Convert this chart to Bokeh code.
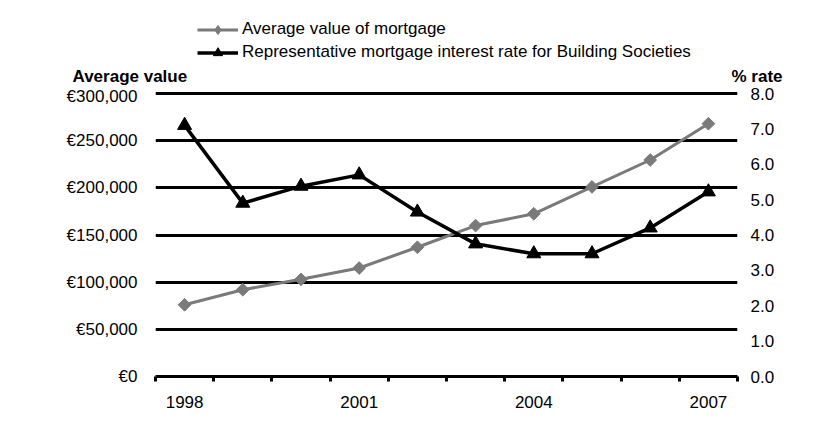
from bokeh.plotting import figure
from bokeh.models import (Range1d, LinearAxis, FixedTicker, NumeralTickFormatter,
                          Legend, LegendItem, Label)
from bokeh.embed import file_html
from bokeh.resources import INLINE
import math

# ---- data ----
years = [1998, 1999, 2000, 2001, 2002, 2003, 2004, 2005, 2006, 2007]
avg_value = [76000, 92000, 103000, 115000, 137000, 160000, 172500, 201000, 229500, 268000]
rate = [7.1, 4.9, 5.38, 5.7, 4.65, 3.75, 3.47, 3.47, 4.2, 5.22]

x_tick_years = [1998, 2001, 2004, 2007]
left_ticks = [0, 50000, 100000, 150000, 200000, 250000, 300000]
left_tick_labels = ["€0", "€50,000", "€100,000", "€150,000", "€200,000", "€250,000", "€300,000"]
right_ticks = [0, 1, 2, 3, 4, 5, 6, 7, 8]

series_names = ["Average value of mortgage",
                "Representative mortgage interest rate for Building Societies"]
left_title = "Average value"
right_title = "% rate"

FONT = "Liberation Sans"
FS = "17px"
GRAY = "#7a7a7a"

# layout (pixels)
W = 817
H_TOP = 86
H_MAIN = 335
B_LEFT, B_RIGHT, B_TOP, B_BOTTOM = 155, 80, 2, 45
frame_h = H_MAIN - B_TOP - B_BOTTOM
grid_h = 283            # pixel height from 0 to the top tick
y_end = left_ticks[-1] * frame_h / grid_h
r_end = right_ticks[-1] * frame_h / grid_h

# ---------- header figure: legend + axis titles ----------
hdr = figure(width=W, height=H_TOP, output_backend="svg", toolbar_location=None,
             x_axis_type=None, y_axis_type=None,
             x_range=Range1d(0, 1), y_range=Range1d(0, 1),
             min_border=0, min_border_left=0, min_border_right=0,
             min_border_top=0, min_border_bottom=0,
             background_fill_color="white", border_fill_color="white")
hdr.outline_line_color = None
hdr.grid.visible = False
# the series again (outside this panel's visible ranges) so the legend can show their glyphs
hl1 = hdr.line(years, avg_value, line_color=GRAY, line_width=3)
hm1 = hdr.scatter(years, avg_value, marker="diamond", size=12,
                  fill_color=GRAY, line_color=GRAY)
hl2 = hdr.line(years, rate, line_color="black", line_width=3.5)
hm2 = hdr.scatter(years, rate, marker="triangle", size=14, fill_color="black",
                  line_color="black")
legend = Legend(items=[LegendItem(label=series_names[0], renderers=[hl1, hm1]),
                       LegendItem(label=series_names[1], renderers=[hl2, hm2])],
                location=(197, 22.5), orientation="vertical",
                padding=0, margin=0, spacing=0, glyph_width=41, glyph_height=23,
                label_height=23, label_standoff=4,
                label_text_font=FONT, label_text_font_size=FS, label_text_color="black",
                border_line_color=None, background_fill_alpha=0)
hdr.add_layout(legend, "center")
hdr.add_layout(Label(x=72, y=10.5, x_units="screen", y_units="screen", text=left_title,
                     text_font=FONT, text_font_size=FS, text_font_style="bold",
                     text_color="black", text_baseline="middle", text_align="left"))
hdr.add_layout(Label(x=731, y=10, x_units="screen", y_units="screen", text=right_title,
                     text_font=FONT, text_font_size=FS, text_font_style="bold",
                     text_color="black", text_baseline="middle", text_align="left"))

# ---------- main chart ----------
p = figure(width=W, height=H_MAIN, output_backend="svg", toolbar_location=None,
           x_range=Range1d(1997.5, 2007.5), y_range=Range1d(0, y_end),
           min_border_left=B_LEFT, min_border_right=B_RIGHT,
           min_border_top=B_TOP, min_border_bottom=B_BOTTOM,
           background_fill_color="white", border_fill_color="white")
p.outline_line_color = None
p.extra_y_ranges = {"rate": Range1d(0, r_end)}

xa = p.xaxis[0]
xa.ticker = FixedTicker(ticks=x_tick_years,
                        minor_ticks=[1997.5 + i for i in range(11)])
xa.major_tick_out = 0
xa.major_tick_in = 0
xa.minor_tick_out = 5
xa.minor_tick_in = 0
xa.minor_tick_line_width = 3
xa.minor_tick_line_color = "black"
xa.axis_line_width = 3
xa.axis_line_color = "black"
xa.major_label_standoff = 14
xa.major_label_text_font = FONT
xa.major_label_text_font_size = FS
xa.major_label_text_color = "black"
p.xgrid.visible = False

ya = p.yaxis[0]
ya.ticker = FixedTicker(ticks=left_ticks)
ya.major_label_overrides = {t: l for t, l in zip(left_ticks, left_tick_labels)}
ya.axis_line_color = None
ya.major_tick_out = 0
ya.major_tick_in = 0
ya.minor_tick_out = 0
ya.minor_tick_in = 0
ya.major_label_standoff = 18
ya.major_label_text_font = FONT
ya.major_label_text_font_size = FS
ya.major_label_text_color = "black"
p.ygrid.ticker = FixedTicker(ticks=left_ticks)
p.ygrid.grid_line_color = "black"
p.ygrid.grid_line_width = 3

ra = LinearAxis(y_range_name="rate", ticker=FixedTicker(ticks=right_ticks),
                formatter=NumeralTickFormatter(format="0.0"))
ra.axis_line_color = None
ra.major_tick_out = 0
ra.major_tick_in = 0
ra.minor_tick_out = 0
ra.minor_tick_in = 0
ra.major_label_standoff = 13
ra.major_label_text_font = FONT
ra.major_label_text_font_size = FS
ra.major_label_text_color = "black"
p.add_layout(ra, "right")

p.line(years, avg_value, line_color=GRAY, line_width=3)
p.scatter(years, avg_value, marker="square", angle=math.pi / 4, size=9,
          fill_color=GRAY, line_color=GRAY)
p.line(years, rate, line_color="black", line_width=3.5, y_range_name="rate")
p.scatter(years, rate, marker="triangle", size=14, fill_color="black",
          line_color="black", y_range_name="rate")

open("out.html", "w").write(file_html([hdr, p], INLINE))
